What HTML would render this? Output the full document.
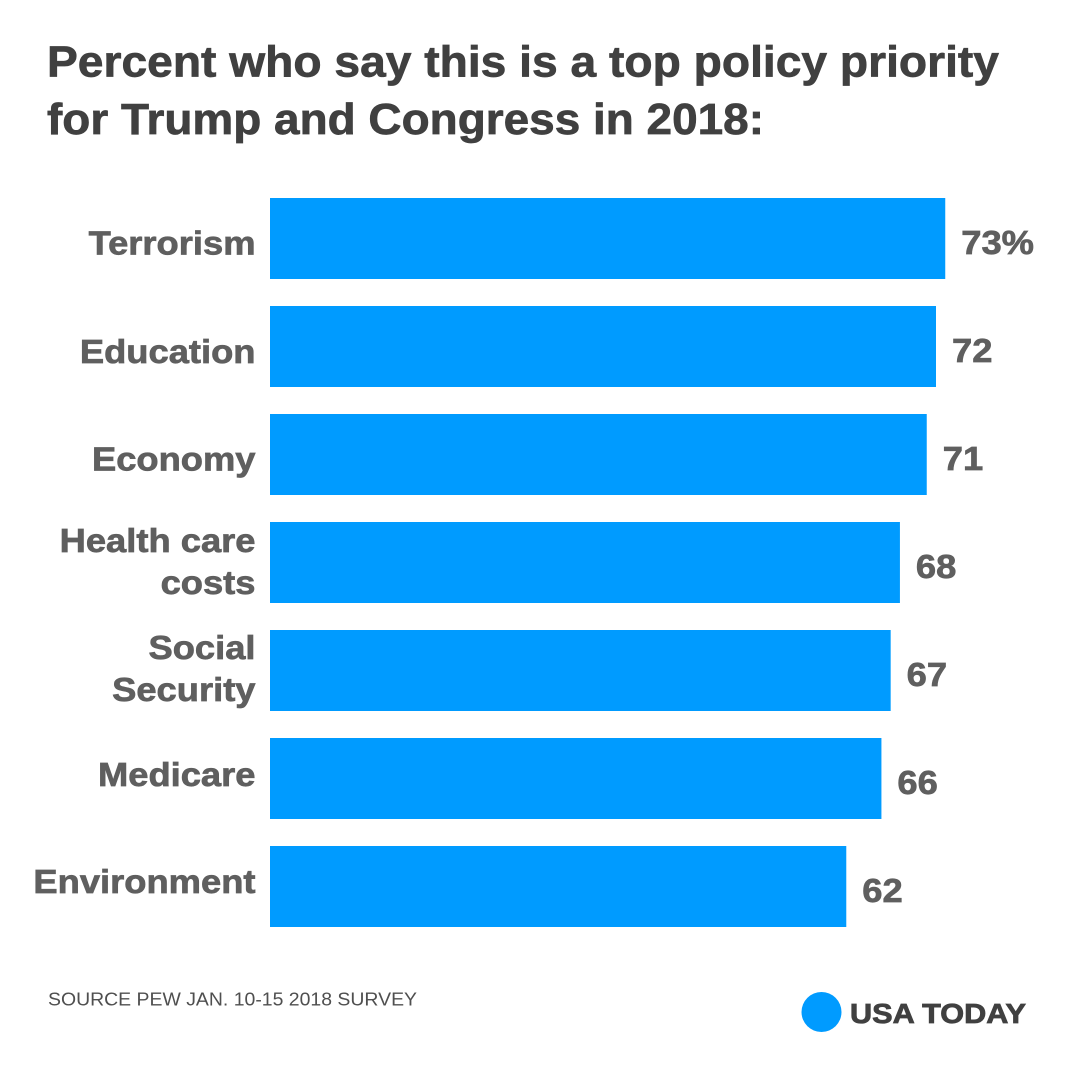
<!DOCTYPE html>
<html lang="en">
<head>
<meta charset="utf-8">
<title>Top policy priorities</title>
<style>
html,body{margin:0;padding:0;background:#fff}
body{width:1080px;height:1080px;overflow:hidden;font-family:"Liberation Sans",sans-serif}
svg{display:block}
text{font-family:"Liberation Sans",sans-serif}
</style>
</head>
<body>
<svg id="chart" width="1080" height="1080" viewBox="0 0 1080 1080" xmlns="http://www.w3.org/2000/svg">
<rect x="0" y="0" width="1080" height="1080" fill="#ffffff"/>
<text x="47" y="76.5" font-size="44" font-weight="700" fill="#404040" stroke="#404040" stroke-width="0.7" textLength="952" lengthAdjust="spacingAndGlyphs">Percent who say this is a top policy priority</text>
<text x="47" y="134" font-size="44" font-weight="700" fill="#404040" stroke="#404040" stroke-width="0.7" textLength="717" lengthAdjust="spacingAndGlyphs">for Trump and Congress in 2018:</text>
<g id="bars"></g>
<text x="48" y="1005.5" font-size="18" fill="#4f4f4f" textLength="369" lengthAdjust="spacingAndGlyphs">SOURCE PEW JAN. 10-15 2018 SURVEY</text>
<circle cx="821.5" cy="1012" r="20" fill="#009bff"/>
<text x="850" y="1023" font-size="27.5" font-weight="700" fill="#404040" stroke="#404040" stroke-width="0.8" textLength="176" lengthAdjust="spacingAndGlyphs">USA TODAY</text>
</svg>
<script>
const categories = [["Terrorism"],["Education"],["Economy"],["Health care","costs"],["Social","Security"],["Medicare"],["Environment"]];
const values = [73,72,71,68.1,67.1,66.1,62.3];
const valueLabels = ["73%","72","71","68","67","66","62"];

const svgNS = "http://www.w3.org/2000/svg";
const barsGroup = document.getElementById("bars");
const x0 = 270, pxPerUnit = 9.25;
const top0 = 198, step = 108, barH = 81;
const textStretch = 1.085;
function xScale(v){ return x0 + v * pxPerUnit; }
function yScale(i){ return top0 + i * step; }
function stretchAbout(x){ return "translate(" + x + " 0) scale(" + textStretch + " 1) translate(" + (-x) + " 0)"; }
const labelNudge = [4,4.5,4,-1.5,-2.5,-4.5,-5.5];

values.forEach(function(v,i){
  const r = document.createElementNS(svgNS,"rect");
  r.setAttribute("x",x0);
  r.setAttribute("y",yScale(i));
  r.setAttribute("width",xScale(v)-x0);
  r.setAttribute("height",barH);
  r.setAttribute("fill","#009bff");
  
  
  barsGroup.appendChild(r);

  const lines = categories[i];
  const cy = yScale(i) + barH/2 + labelNudge[i];
  lines.forEach(function(line,j){
    const t = document.createElementNS(svgNS,"text");
    t.setAttribute("x",255.5);
    t.setAttribute("y",cy + 12 + (j-(lines.length-1)/2)*42);
    t.setAttribute("text-anchor","end");
    t.setAttribute("font-size","33.5");
    t.setAttribute("font-weight","700");
    t.setAttribute("transform",stretchAbout(255.5));
    t.setAttribute("fill","#5f5f5f");
    t.setAttribute("stroke","#5f5f5f");
    t.setAttribute("stroke-width","0.7");
    t.textContent = line;
    
    
    barsGroup.appendChild(t);
  });

  const vx = xScale(v)+16;
  const vt = document.createElementNS(svgNS,"text");
  vt.setAttribute("x",vx);
  vt.setAttribute("y",yScale(i)+barH/2+15.7);
  vt.setAttribute("font-size","33.5");
  vt.setAttribute("font-weight","700");
  vt.setAttribute("transform",stretchAbout(vx));
  vt.setAttribute("fill","#5f5f5f");
  vt.setAttribute("stroke","#5f5f5f");
  vt.setAttribute("stroke-width","0.7");
  vt.textContent = valueLabels[i];
  
  
  barsGroup.appendChild(vt);
});
</script>
</body>
</html>
